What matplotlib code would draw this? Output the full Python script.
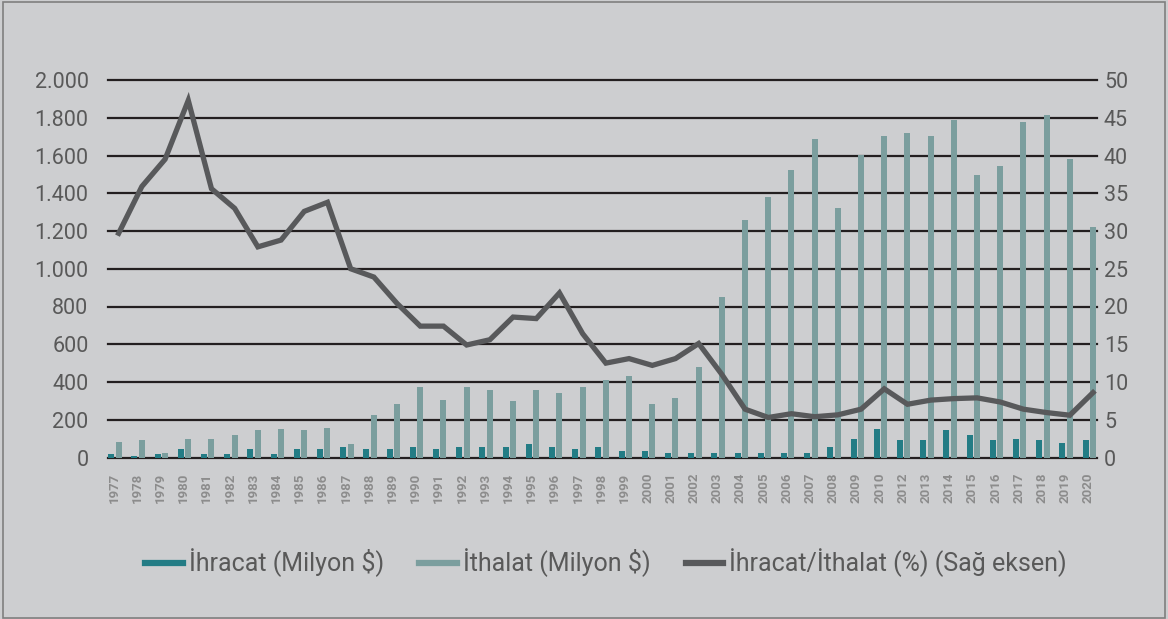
import numpy as np
import matplotlib
matplotlib.use('Agg')
import matplotlib.pyplot as plt
from matplotlib import font_manager as fm
from matplotlib.lines import Line2D
from matplotlib.patches import Rectangle

# data (2011 is not in the source)
years = [1977, 1978, 1979, 1980, 1981, 1982, 1983, 1984, 1985, 1986,
         1987, 1988, 1989, 1990, 1991, 1992, 1993, 1994, 1995, 1996,
         1997, 1998, 1999, 2000, 2001, 2002, 2003, 2004, 2005, 2006,
         2007, 2008, 2009, 2010, 2012, 2013, 2014, 2015, 2016, 2017,
         2018, 2019, 2020]
ihracat = [20, 9, 20, 44, 20, 20, 44, 20, 44, 44,
           56, 44, 44, 56, 44, 56, 56, 56, 74, 56,
           44, 56, 32, 32, 26, 26, 26, 26, 26, 26,
           26, 56, 97, 150, 91, 91, 144, 120, 91, 97,
           91, 79, 91]
ithalat = [80, 91, 26, 97, 97, 120, 144, 150, 144, 156,
           74, 224, 281, 376, 307, 376, 360, 297, 360, 344,
           376, 412, 433, 281, 313, 480, 852, 1256, 1382, 1523,
           1686, 1324, 1602, 1701, 1717, 1701, 1790, 1497, 1544, 1775,
           1817, 1581, 1219]
oran = [29.7, 35.9, 39.5, 47.3, 35.6, 33.0, 27.9, 28.8, 32.6, 33.8,
        25.0, 23.9, 20.4, 17.4, 17.4, 14.9, 15.6, 18.6, 18.4, 21.8,
        16.4, 12.5, 13.1, 12.2, 13.1, 15.1, 11.0, 6.4, 5.3, 5.8,
        5.4, 5.65, 6.4, 9.1, 7.05, 7.6, 7.8, 7.9, 7.35, 6.4,
        5.95, 5.6, 8.6]

left_ticks = list(range(0, 2001, 200))
right_ticks = list(range(0, 51, 5))
labels = ['İhracat (Milyon $)', 'İthalat (Milyon $)', 'İhracat/İthalat (%) (Sağ eksen)']

c_ihr = '#237C85'
c_ith = '#7B9E9E'
c_line = '#58595B'
c_bg = '#CDCED0'

installed = {f.name for f in fm.fontManager.ttflist}
narrow = 'Liberation Sans Narrow' if 'Liberation Sans Narrow' in installed else 'Roboto'
plt.rcParams['font.family'] = ['Roboto', 'DejaVu Sans']

W, H = 1168, 619
fig = plt.figure(figsize=(W / 100, H / 100), dpi=100)
fig.patch.set_facecolor(c_bg)

ax = fig.add_axes([108 / W, 1 - 457.5 / H, 989 / W, 377.5 / H])
ax.set_facecolor('none')

x = np.arange(len(years))
ax.bar(x - 0.32, ihracat, width=0.26, color=c_ihr, zorder=2)
ax.bar(x, ithalat, width=0.26, color=c_ith, zorder=2)
ax.set_xlim(-0.46, 42.17)
ax.set_ylim(0, 2000)

ax.set_yticks(left_ticks)
ax.set_yticklabels([f'{v:,}'.replace(',', '.') for v in left_ticks],
                   fontsize=15.5, color='#595959')
ax.set_xticks(x - 0.2)
ax.set_xticklabels([str(y) for y in years], rotation=90, fontsize=9.5,
                   fontweight='bold', color='#8C8C8C')
ax.tick_params(axis='y', length=0, pad=14)
ax.tick_params(axis='x', length=0, pad=11)
ax.yaxis.grid(True, color='#231F20', lw=1.6)
for gl in ax.get_ygridlines():
    gl.set_clip_on(False)
ax.set_axisbelow(True)
for s in ax.spines.values():
    s.set_visible(False)

ax2 = ax.twinx()
ax2.plot(x, oran, color=c_line, lw=3.8, solid_joinstyle='miter', zorder=3)
ax2.set_ylim(0, 50)
ax2.set_yticks(right_ticks)
ax2.set_yticklabels([str(v) for v in right_ticks], fontsize=15.5, color='#595959')
ax2.tick_params(axis='y', length=0, pad=5)
for s in ax2.spines.values():
    s.set_visible(False)

handles = [Line2D([], [], color=c_ihr, lw=4.5),
           Line2D([], [], color=c_ith, lw=4.5),
           Line2D([], [], color=c_line, lw=4.5)]
fig.legend(handles, labels, loc='center', bbox_to_anchor=(0.519, 1 - 563 / H),
           ncol=3, frameon=False, handlelength=1.5, handletextpad=0.25,
           columnspacing=1.4, prop={'family': narrow, 'size': 18},
           labelcolor='#595959')

# thin frame around the whole picture
fig.add_artist(Rectangle((3 / W, 1 / H), 1162 / W, 616 / H, transform=fig.transFigure,
                         fill=False, edgecolor='#7F7F7F', lw=1.2))

fig.savefig('out.png', dpi=100, facecolor=c_bg)
